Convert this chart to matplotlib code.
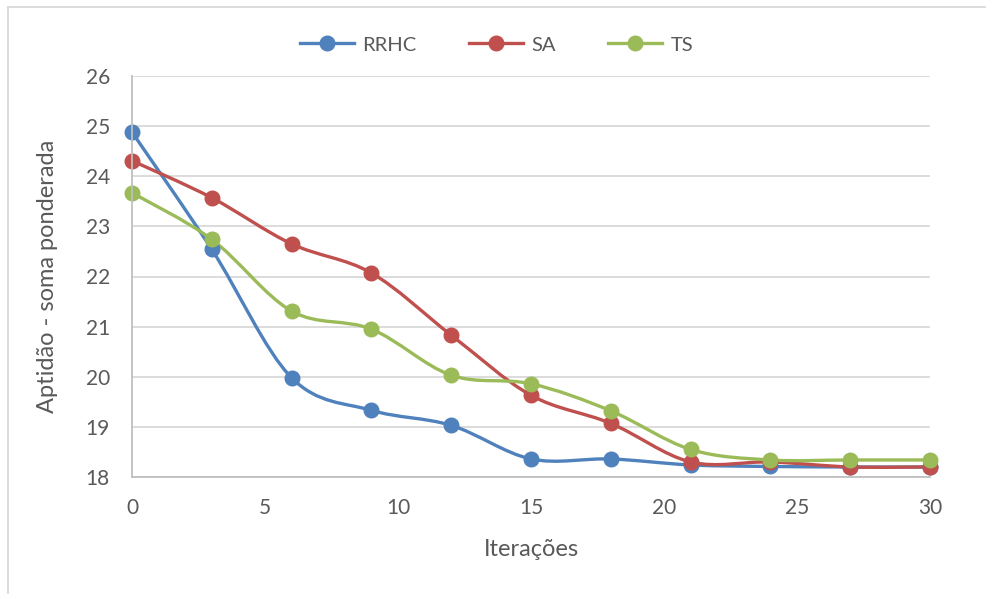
import matplotlib
matplotlib.use("Agg")
import matplotlib.pyplot as plt
import numpy as np
from matplotlib.path import Path
from matplotlib.patches import PathPatch
from matplotlib.lines import Line2D

# data
iteracoes = [0, 3, 6, 9, 12, 15, 18, 21, 24, 27, 30]
rrhc = [24.88, 22.54, 19.98, 19.33, 19.03, 18.36, 18.36, 18.24, 18.21, 18.2, 18.2]
sa = [24.31, 23.57, 22.65, 22.07, 20.83, 19.63, 19.07, 18.3, 18.3, 18.2, 18.2]
ts = [23.67, 22.74, 21.31, 20.95, 20.03, 19.86, 19.32, 18.55, 18.34, 18.34, 18.34]
nomes = ["RRHC", "SA", "TS"]
cores = ["#4F81BD", "#C0504D", "#9BBB59"]

plt.rcParams["font.family"] = ["Lato", "DejaVu Sans"]
texto = "#595959"


def smooth_path(x, y):
    # Excel-like smoothed line: cubic bezier segments through each point
    pts = np.column_stack([x, y]).astype(float)
    n = len(pts)
    verts = [pts[0]]
    codes = [Path.MOVETO]
    for i in range(n - 1):
        p0 = pts[i - 1] if i > 0 else pts[i]
        p1 = pts[i]
        p2 = pts[i + 1]
        p3 = pts[i + 2] if i + 2 < n else pts[i + 1]
        c1 = p1 + (p2 - p0) / 6
        c2 = p2 - (p3 - p1) / 6
        verts += [c1, c2, p2]
        codes += [Path.CURVE4] * 3
    return Path(verts, codes)


fig = plt.figure(figsize=(9.87, 5.94), dpi=100)
ax = fig.add_axes([132 / 987, 1 - 477 / 594, (930 - 132) / 987, (477 - 76) / 594])

for serie, nome, cor in zip([rrhc, sa, ts], nomes, cores):
    ax.add_patch(PathPatch(smooth_path(iteracoes, serie), fill=False,
                           edgecolor=cor, linewidth=2.4, capstyle="round",
                           clip_on=False))
    ax.plot(iteracoes, serie, linestyle="none", marker="o", markersize=10.5,
            color=cor, clip_on=False)

ax.set_xlim(0, 30)
ax.set_ylim(18, 26)
ax.set_xticks([0, 5, 10, 15, 20, 25, 30])
ax.set_yticks(range(18, 27))
ax.yaxis.grid(True, color="#D9D9D9", linewidth=1.3)
ax.set_axisbelow(True)
for s in ["top", "right"]:
    ax.spines[s].set_visible(False)
for s in ["left", "bottom"]:
    ax.spines[s].set_color("#BFBFBF")
    ax.spines[s].set_linewidth(1.3)
ax.tick_params(length=0, labelsize=15, labelcolor=texto)
ax.tick_params(axis="x", pad=15)
ax.tick_params(axis="y", pad=16)

ax.set_xlabel("Iterações", fontsize=17, color=texto, labelpad=15)
ax.set_ylabel("Aptidão - soma ponderada", fontsize=17, color=texto, labelpad=20)

handles = [Line2D([], [], color=c, linewidth=2.4, marker="o", markersize=10.5)
           for c in cores]
fig.legend(handles, nomes, loc="center", bbox_to_anchor=(0.503, 1 - 45 / 594),
           ncol=3, frameon=False, fontsize=14.5, handlelength=2.7,
           columnspacing=2.6, handletextpad=0.4, labelcolor=texto)

# outer chart frame (only top and left edges visible)
fig.add_artist(Line2D([8 / 987, 1], [1 - 7 / 594, 1 - 7 / 594],
                      color="#D9D9D9", linewidth=1.3))
fig.add_artist(Line2D([8 / 987, 8 / 987], [0, 1 - 7 / 594],
                      color="#D9D9D9", linewidth=1.3))

fig.savefig("out.png", dpi=100)
